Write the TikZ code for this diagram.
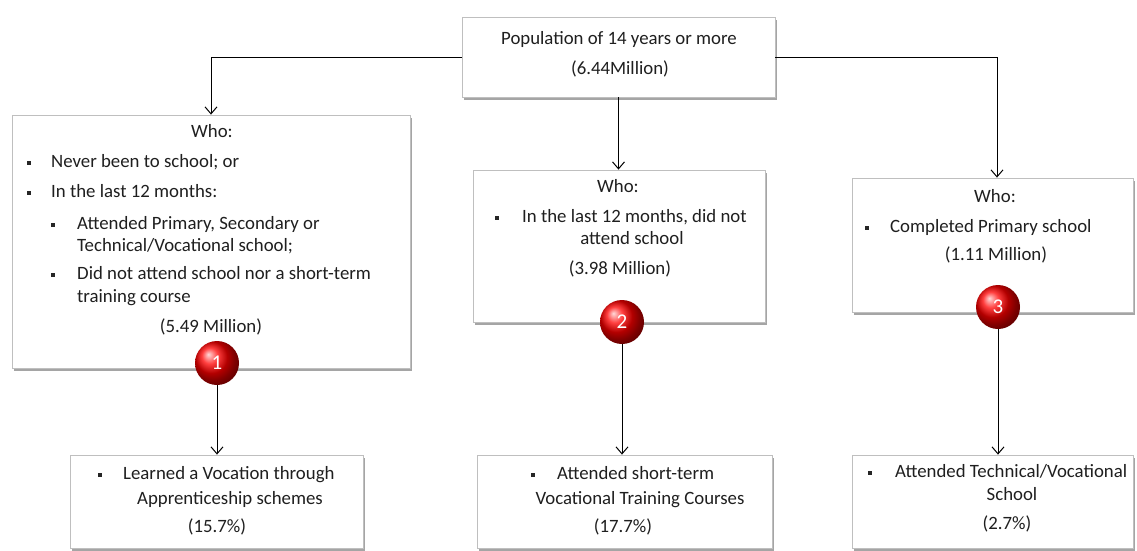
\documentclass[tikz,border=0pt]{standalone}
\usepackage{fontspec}
\setmainfont{Carlito}
\usetikzlibrary{arrows.meta,shadows}

\begin{document}
\begin{tikzpicture}[x=1pt,y=-1pt,
 box/.style={draw=black!25, line width=0.8pt, fill=white, inner sep=0pt,
   drop shadow={shadow xshift=1.5pt, shadow yshift=-3pt, opacity=0.5, fill=black!70}},
 txt/.style={font=\fontsize{18.8}{22}\selectfont, text=black!88, inner sep=0pt,
   text height=1.5ex, text depth=.25ex},
 L/.style={txt, anchor=west},
 C/.style={txt, anchor=center},
 bul/.style={fill=black!85, inner sep=0pt, minimum width=3.2pt, minimum height=3.6pt},
 badge/.style={circle, minimum size=44pt, inner sep=0pt, shading=ball,
   ball color=red, text=white, font=\fontsize{21}{21}\selectfont},
 arr/.style={-{Straight Barb[length=7pt,width=12pt]}, line width=1pt, black}]

\useasboundingbox (0,0) rectangle (1137,550);

% boxes
\node[box, minimum width=313pt, minimum height=80pt] (top) at (618.5,57) {};
\node[box, minimum width=398pt, minimum height=253pt] (b1) at (211,241.5) {};
\node[box, minimum width=292pt, minimum height=152pt] (b2) at (619,246) {};
\node[box, minimum width=281pt, minimum height=134pt] (b3) at (992.5,245) {};
\node[box, minimum width=293pt, minimum height=93pt] (b4) at (216.5,501.5) {};
\node[box, minimum width=295pt, minimum height=93pt] (b5) at (624.5,501.5) {};
\node[box, minimum width=281pt, minimum height=93pt] (b6) at (992.5,501.5) {};

% connectors from top box
\draw[arr] (top.west) -| (b1.north);
\draw[arr] (top.east) -| ([xshift=4.5pt]b3.north);
\draw[arr] (top.south) -- (top.south |- b2.north);

% badges
\node[badge] (n1) at (217,363) {1};
\node[badge] (n2) at (622,322) {2};
\node[badge] (n3) at (998,307) {3};

\draw[arr] (n1.south) -- (n1.south |- b4.north);
\draw[arr] (n2.south) -- (n2.south |- b5.north);
\draw[arr] (n3.south) -- (n3.south |- b6.north);

% top text
\node[C] (t0a) at (619,42) {Population of 14 years or more};
\node[C] (t0b) at (620,72) {(6.44Million)};

% box 1 text
\node[C] (t1a) at (212,135) {Who:};
\node[bul] (u1a) at (29,163) {};
\node[L] (t1b) at (51,165) {Never been to school; or};
\node[bul] (u1b) at (29,193) {};
\node[L] (t1c) at (51,195) {In the last 12 months:};
\node[bul] (u1c) at (53,225) {};
\node[L] (t1d) at (77,227) {Attended Primary, Secondary or};
\node[L] (t1e) at (77,249) {Technical/Vocational school;};
\node[bul] (u1d) at (53,275) {};
\node[L] (t1f) at (77,277) {Did not attend school nor a short-term};
\node[L] (t1g) at (77,300) {training course};
\node[C] (t1h) at (211,330) {(5.49 Million)};

% box 2 text
\node[C] (t2a) at (618,190) {Who:};
\node[bul] (u2a) at (497,218) {};
\node[L] (t2b) at (522,220) {In the last 12 months, did not};
\node[C] (t2c) at (632,242) {attend school};
\node[C] (t2d) at (620,272) {(3.98 Million)};

% box 3 text
\node[C] (t3a) at (995,200) {Who:};
\node[bul] (u3a) at (867,228) {};
\node[L] (t3b) at (890,230) {Completed Primary school};
\node[C] (t3c) at (996,258) {(1.11 Million)};

% box 4 text
\node[bul] (u4a) at (100,475) {};
\node[L] (t4a) at (123,477) {Learned a Vocation through};
\node[C] (t4b) at (230,502) {Apprenticeship schemes};
\node[C] (t4c) at (217,530) {(15.7\%)};

% box 5 text
\node[bul] (u5a) at (533,475) {};
\node[L] (t5a) at (557,477) {Attended short-term};
\node[C] (t5b) at (640,502) {Vocational Training Courses};
\node[C] (t5c) at (623,530) {(17.7\%)};

% box 6 text
\node[bul] (u6a) at (870,473) {};
\node[L] (t6a) at (895,475) {Attended Technical/Vocational};
\node[C] (t6b) at (1012,498) {School};
\node[C] (t6c) at (1007,527) {(2.7\%)};
\end{tikzpicture}
\end{document}
